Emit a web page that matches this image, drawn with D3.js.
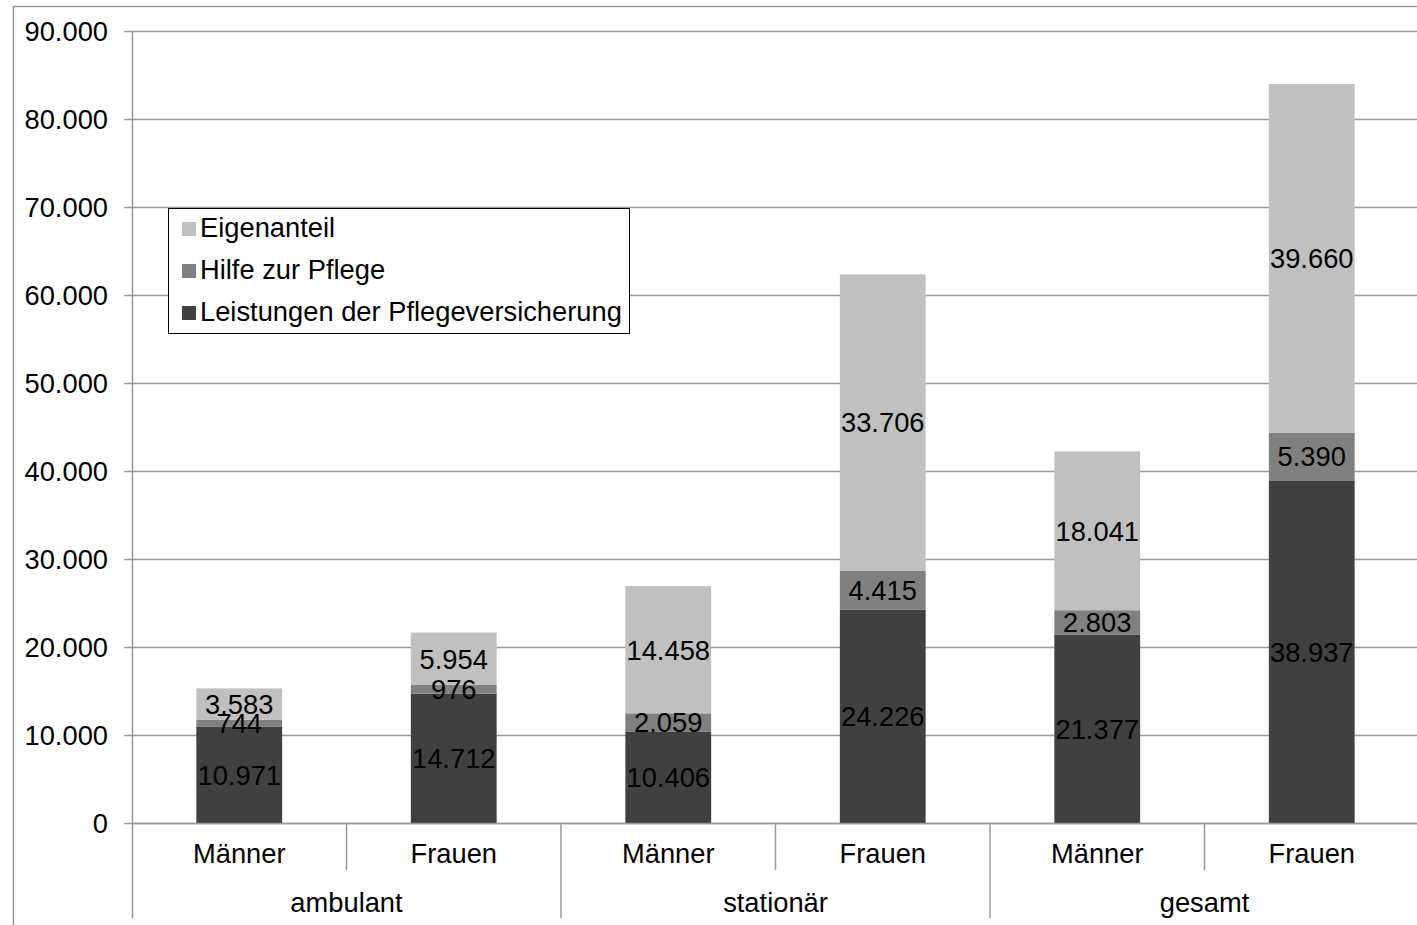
<!DOCTYPE html>
<html><head><meta charset="utf-8">
<script src="https://cdn.jsdelivr.net/npm/d3@7"></script>
<style>html,body{margin:0;padding:0;background:#fff;overflow:hidden}svg{display:block}text{font-family:"Liberation Sans",Arial,sans-serif;fill:#000}</style>
</head><body>
<svg id="c" width="1417" height="925"></svg>
<script>
const groups = ["ambulant", "stationär", "gesamt"];
const genders = ["Männer", "Frauen"];
const seriesNames = ["Leistungen der Pflegeversicherung", "Hilfe zur Pflege", "Eigenanteil"];
const seriesColors = ["#404040", "#808080", "#c0c0c0"];
const leistungen = [10971, 14712, 10406, 24226, 21377, 38937];
const hilfe = [744, 976, 2059, 4415, 2803, 5390];
const eigenanteil = [3583, 5954, 14458, 33706, 18041, 39660];
const yTicks = [0, 10000, 20000, 30000, 40000, 50000, 60000, 70000, 80000, 90000];

const loc = d3.formatLocale({decimal: ",", thousands: ".", grouping: [3], currency: ["", "€"]});
const fmt = loc.format(",d");

const cats = [];
groups.forEach(g => genders.forEach(s => cats.push({key: g + "|" + s, group: g, gender: s})));
const rows = cats.map((c, i) => ({key: c.key, s0: leistungen[i], s1: hilfe[i], s2: eigenanteil[i]}));

const svg = d3.select("#c");
const L = 132, R = 1419, T = 31, B = 823;
const FS = 27.3;
const grid = "#999";

// outer frame
svg.append("rect").attr("x", 13.5).attr("y", 6.5).attr("width", 1500).attr("height", 1000)
  .attr("fill", "none").attr("stroke", grid).attr("stroke-width", 1.5);

const x = d3.scaleBand().domain(cats.map(c => c.key)).range([L, R]).paddingInner(0.6).paddingOuter(0.3);
const y = d3.scaleLinear().domain([0, 90000]).range([B, T]);

// gridlines
svg.append("g").selectAll("line").data(yTicks).join("line")
  .attr("x1", L - 8).attr("x2", R).attr("y1", d => Math.round(y(d)) + 0.5).attr("y2", d => Math.round(y(d)) + 0.5)
  .attr("stroke", grid).attr("stroke-width", 1.5);

// y tick labels
svg.append("g").selectAll("text").data(yTicks).join("text")
  .attr("x", 108).attr("y", d => y(d)).attr("dy", "0.36em").attr("text-anchor", "end")
  .attr("font-size", FS).text(d => fmt(d));

// stacked bars
const keys = ["s0", "s1", "s2"];
const stack = d3.stack().keys(keys)(rows);
const layers = svg.append("g").selectAll("g").data(stack).join("g")
  .attr("fill", (d, i) => seriesColors[i]);
layers.selectAll("rect").data(d => d).join("rect")
  .attr("x", d => x(d.data.key)).attr("width", x.bandwidth())
  .attr("y", d => y(d[1])).attr("height", d => y(d[0]) - y(d[1]));

// value labels
const lbl = svg.append("g");
stack.forEach(layer => {
  layer.forEach(d => {
    lbl.append("text")
      .attr("x", x(d.data.key) + x.bandwidth() / 2)
      .attr("y", (y(d[0]) + y(d[1])) / 2)
      .attr("dy", "0.36em").attr("text-anchor", "middle").attr("font-size", FS)
      .text(fmt(d[1] - d[0]));
  });
});

// axes lines
const step = x.step();
const bound = i => L + i * step; // category boundaries
svg.append("line").attr("x1", L + 0.5).attr("x2", L + 0.5).attr("y1", T).attr("y2", 918)
  .attr("stroke", grid).attr("stroke-width", 1.5);
svg.append("line").attr("x1", L).attr("x2", R).attr("y1", B + 0.5).attr("y2", B + 0.5)
  .attr("stroke", grid).attr("stroke-width", 1.5);
// separators
const seps = d3.range(1, cats.length + 1);
svg.append("g").selectAll("line").data(seps).join("line")
  .attr("x1", d => bound(d)).attr("x2", d => bound(d))
  .attr("y1", B).attr("y2", d => d % 2 === 0 ? 918 : 870)
  .attr("stroke", grid).attr("stroke-width", 1.5);

// category labels
svg.append("g").selectAll("text").data(cats).join("text")
  .attr("x", d => x(d.key) + x.bandwidth() / 2).attr("y", 863)
  .attr("text-anchor", "middle").attr("font-size", FS).text(d => d.gender);
// group labels
svg.append("g").selectAll("text").data(groups).join("text")
  .attr("x", (d, i) => bound(i * 2) + step).attr("y", 912)
  .attr("text-anchor", "middle").attr("font-size", FS).text(d => d);

// legend
const lg = svg.append("g");
lg.append("rect").attr("x", 168.5).attr("y", 208.5).attr("width", 461).attr("height", 125)
  .attr("fill", "#fff").attr("stroke", "#000").attr("stroke-width", 1);
const legOrder = [2, 1, 0];
legOrder.forEach((si, k) => {
  const by = 237 + k * 42;
  lg.append("rect").attr("x", 182).attr("y", by - 15).attr("width", 14).attr("height", 14)
    .attr("fill", seriesColors[si]);
  lg.append("text").attr("x", 200).attr("y", by).attr("font-size", FS).text(seriesNames[si]);
});
</script>
</body></html>
